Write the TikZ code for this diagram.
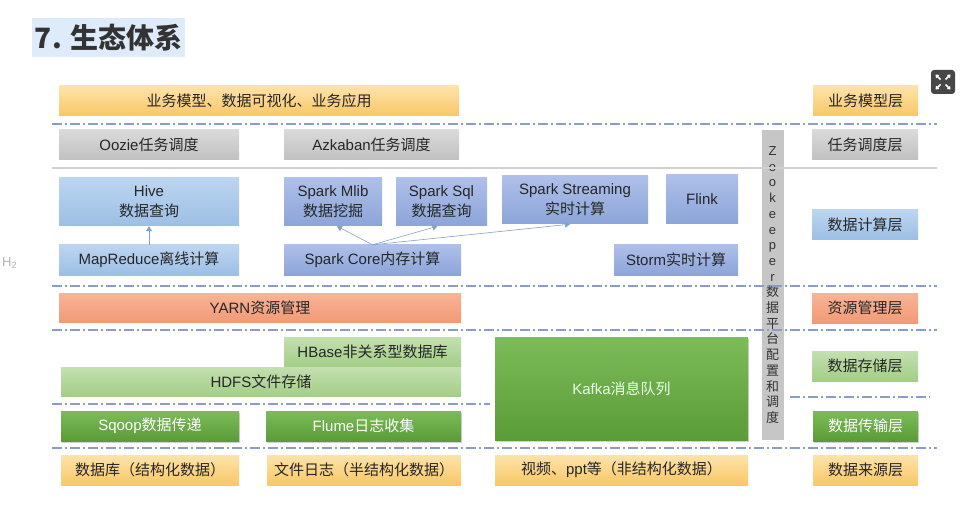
\documentclass[tikz,border=0pt]{standalone}
\usepackage{fontspec}
\setmainfont{Noto Sans CJK SC}
\newfontfamily\lat{Liberation Sans}
\usetikzlibrary{arrows.meta,shadows}

\definecolor{yelT}{HTML}{FCE3AA}
\definecolor{yelB}{HTML}{F9C766}
\definecolor{gryT}{HTML}{DADADA}
\definecolor{gryB}{HTML}{C0C0C0}
\definecolor{bluT}{HTML}{BCD5F0}
\definecolor{bluB}{HTML}{9CBFE5}
\definecolor{purT}{HTML}{AEC0E9}
\definecolor{purB}{HTML}{8CA4D9}
\definecolor{salT}{HTML}{F8B496}
\definecolor{salB}{HTML}{F29A76}
\definecolor{lgrT}{HTML}{C3E0AF}
\definecolor{lgrB}{HTML}{A3CE88}
\definecolor{grnT}{HTML}{7CBB59}
\definecolor{grnB}{HTML}{5A9C37}
\definecolor{sepline}{HTML}{8A9CCB}
\definecolor{titlebg}{HTML}{DDEBFA}

\tikzset{
  lbl/.style={inner sep=0pt, align=center, font=\fontsize{15}{20}\selectfont, text=black!85},
  yel/.style={lbl, top color=yelT, bottom color=yelB, minimum height=30pt},
  gry/.style={lbl, top color=gryT, bottom color=gryB, minimum height=30pt},
  blu/.style={lbl, top color=bluT, bottom color=bluB, minimum height=30pt},
  pur/.style={lbl, top color=purT, bottom color=purB, minimum height=30pt},
  sal/.style={lbl, top color=salT, bottom color=salB, minimum height=30pt},
  lgr/.style={lbl, top color=lgrT, bottom color=lgrB, minimum height=30pt},
  grn/.style={lbl, top color=grnT, bottom color=grnB, minimum height=30pt, text=white,
    drop shadow={shadow xshift=0.8pt, shadow yshift=-1.5pt, opacity=0.35}},
  sep/.style={sepline, line width=1.4pt, dash pattern=on 10pt off 3pt on 2pt off 3pt},
  flow/.style={draw=bluB!85!black, line width=0.6pt, -{Triangle[length=5pt,width=6pt]}}
}

\begin{document}
\begin{tikzpicture}[x=1pt,y=-1pt]
  \fill[white] (0,0) rectangle (979,521);
  \useasboundingbox (0,0) rectangle (979,521);

  \node[fill=titlebg, anchor=west, minimum width=153pt, minimum height=39pt, inner xsep=1pt,
    font=\bfseries\fontsize{28}{30}\selectfont, text=black!80] (title) at (32,37.5) {7. 生态体系\hfill};
  \node[text=black!30, font=\lat\fontsize{13}{13}\selectfont, anchor=west, inner sep=0pt] (hmark) at (2,263) {H\textsubscript{2}};
  \node[fill=black!72, rounded corners=3pt, minimum size=24pt] (expand) at (943,82) {};
  \foreach \dx/\dy in {1/1,1/-1,-1/1,-1/-1}
    \draw[white, line width=1.6pt, -{Triangle[length=3pt,width=4.5pt]}]
      ([shift={(2.5*\dx,2.5*\dy)}]expand.center) -- ++(5*\dx,5*\dy);

  \node[fill=gryB!90, minimum width=22pt, minimum height=310pt, inner sep=0pt, align=center,
    font=\fontsize{13}{15.7}\selectfont, text=black!80] (zk) at (772.5,285)
    {\lat Z\\\lat o\\\lat o\\\lat k\\\lat e\\\lat e\\\lat p\\\lat e\\\lat r\\数\\据\\平\\台\\配\\置\\和\\调\\度};

  \draw[sep] (52,124) -- (937,124);
  \draw[black!18, line width=1.3pt] (52,168) -- (937,168);
  \draw[sep] (52,286) -- (937,286);
  \draw[sep] (52,330) -- (937,330);
  \draw[sep] (52,404) -- (490,404);
  \draw[sep] (790,397) -- (930,397);
  \draw[sep] (52,448) -- (937,448);

  \node[yel, minimum width=400pt] (biz) at (259,101) {业务模型、数据可视化、业务应用};
  \node[yel, minimum width=105pt] (bizL) at (865.5,101) {业务模型层};

  \node[gry, minimum width=180pt] (oozie) at (149,145) {{\lat Oozie}任务调度};
  \node[gry, minimum width=175pt] (azk) at (371.5,145) {{\lat Azkaban}任务调度};
  \node[gry, minimum width=106pt] (taskL) at (865,145) {任务调度层};

  \node[blu, minimum width=180pt, minimum height=48pt] (hive) at (149,202) {{\lat Hive}\\数据查询};
  \node[blu, minimum width=180pt] (mr) at (149,260) {{\lat MapReduce}离线计算};
  \node[pur, minimum width=98pt, minimum height=48pt] (mlib) at (333,202) {{\lat Spark Mlib}\\数据挖掘};
  \node[pur, minimum width=91pt, minimum height=48pt] (sql) at (441.5,202) {{\lat Spark Sql}\\数据查询};
  \node[pur, minimum width=146pt, minimum height=48pt] (stream) at (575,200) {{\lat Spark Streaming}\\实时计算};
  \node[pur, minimum width=72pt, minimum height=49pt] (flink) at (702,199.5) {\lat Flink};
  \node[pur, minimum width=177pt] (core) at (372.5,260) {{\lat Spark Core}内存计算};
  \node[pur, minimum width=124pt] (storm) at (676,260) {{\lat Storm}实时计算};
  \node[blu, minimum width=106pt] (compL) at (865,225) {数据计算层};

  \draw[flow] (mr.north) -- (hive.south);
  \draw[flow] (core.north) -- ([xshift=4pt]mlib.south);
  \draw[flow] (core.north) -- ([xshift=-4pt]sql.south);
  \draw[flow] (core.north) -- ([xshift=-5pt]stream.south);

  \node[sal, minimum width=402pt, minimum height=29pt] (yarn) at (260,307.5) {{\lat YARN}资源管理};
  \node[sal, minimum width=106pt] (resL) at (865,308) {资源管理层};

  \node[lgr, minimum width=177pt] (hbase) at (372.5,352) {{\lat HBase}非关系型数据库};
  \node[lgr, minimum width=400pt, minimum height=29pt] (hdfs) at (261,381.5) {{\lat HDFS}文件存储};
  \node[grn, minimum width=253pt, minimum height=103pt, text=white!92!green] (kafka) at (621.5,388.5) {{\lat Kafka}消息队列};
  \node[lgr, minimum width=106pt] (storL) at (865,366) {数据存储层};

  \node[grn, minimum width=178pt] (sqoop) at (150,426) {{\lat Sqoop}数据传递};
  \node[grn, minimum width=195pt] (flume) at (363.5,426) {{\lat Flume}日志收集};
  \node[grn, minimum width=105pt] (transL) at (865.5,426) {数据传输层};

  \node[yel, minimum width=178pt] (db) at (150,470) {数据库（结构化数据）};
  \node[yel, minimum width=194pt] (logs) at (364,470) {文件日志（半结构化数据）};
  \node[yel, minimum width=253pt] (video) at (621.5,470) {视频、{\lat ppt}等（非结构化数据）};
  \node[yel, minimum width=105pt] (srcL) at (865.5,470) {数据来源层};
\end{tikzpicture}
\end{document}
